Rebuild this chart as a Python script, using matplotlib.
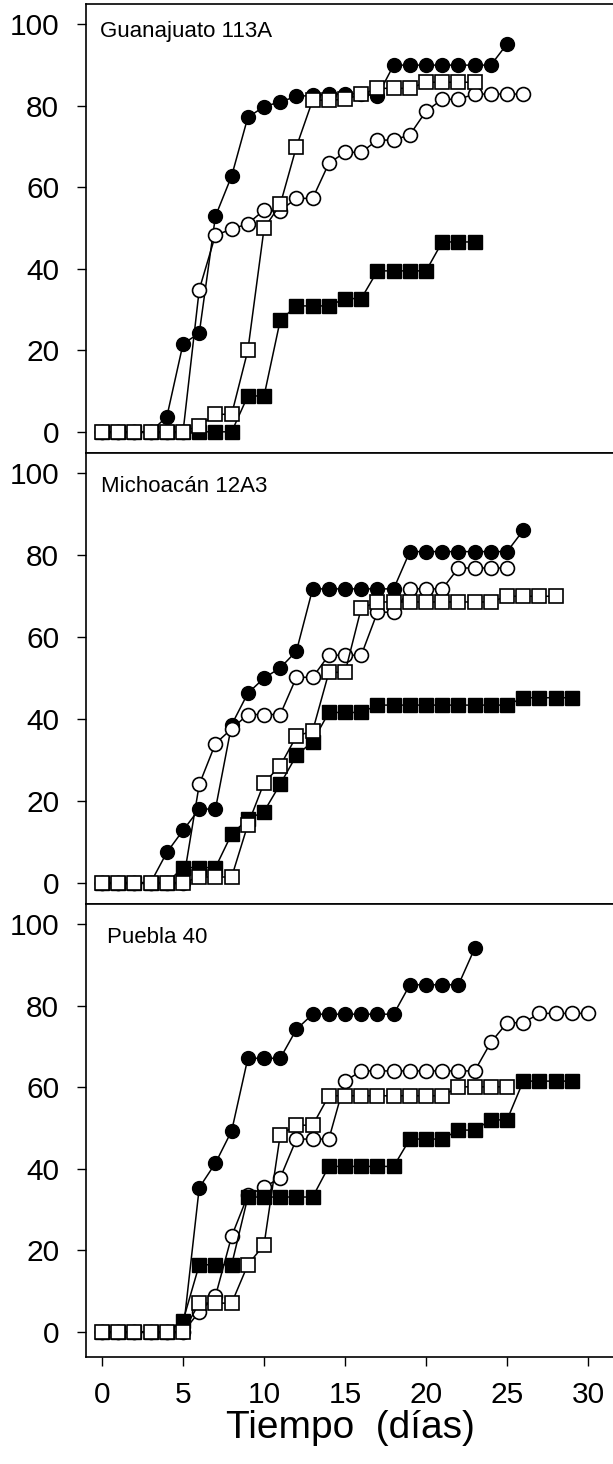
import numpy as np
import matplotlib
matplotlib.use("Agg")
import matplotlib.pyplot as plt

plt.rcParams['font.family'] = ['Liberation Sans Narrow', 'Liberation Sans', 'DejaVu Sans']

# germinacion acumulada (%) por dia, cuatro tratamientos por poblacion
titles = ["Guanajuato 113A", "Michoacán 12A3", "Puebla 40"]

gto_fc = [0, 0, 0, 0, 3.7, 21.6, 24.2, 52.9, 62.8, 77.2, 79.8, 81, 82.3, 82.6, 82.8,
          83, 83, 82.4, 90, 90, 90, 90, 90, 90, 90, 95.2]
gto_oc = [0, 0, 0, 0, 0, 0, 34.9, 48.3, 49.7, 51.1, 54.4, 54.3, 57.3, 57.3, 65.9,
          68.6, 68.6, 71.6, 71.6, 72.9, 78.7, 81.6, 81.6, 82.9, 82.9, 82.9, 82.9]
gto_fs = [0, 0, 0, 0, 0, 0, 0, 0, 0, 8.8, 8.8, 27.4, 30.9, 30.9, 30.9, 32.7, 32.7,
          39.5, 39.5, 39.5, 39.5, 46.6, 46.6, 46.6]
gto_os = [0, 0, 0, 0, 0, 0, 1.5, 4.3, 4.3, 20, 49.9, 55.8, 70, 81.4, 81.4, 81.6,
          82.8, 84.3, 84.3, 84.3, 85.8, 85.8, 85.8, 85.8]

mich_fc = [0, 0, 0, 0, 7.4, 12.8, 18, 18, 38.6, 46.3, 50, 52.5, 56.6, 71.8, 71.8,
           71.8, 71.8, 71.8, 71.8, 80.9, 80.9, 80.9, 80.9, 80.9, 80.9, 80.9, 86.1]
mich_oc = [0, 0, 0, 0, 0, 0, 24, 34, 37.6, 41.1, 41.1, 41.1, 50.2, 50.2, 55.6, 55.6,
           55.6, 66.1, 66.1, 71.8, 71.8, 71.8, 76.9, 76.9, 76.9, 76.9]
mich_fs = [0, 0, 0, 0, 0, 3.7, 3.7, 3.7, 11.9, 15.5, 17.4, 24.1, 31.1, 34.5, 41.6,
           41.6, 41.6, 43.4, 43.4, 43.4, 43.4, 43.4, 43.4, 43.4, 43.4, 43.4, 45.2,
           45.2, 45.2, 45.2]
mich_os = [0, 0, 0, 0, 0, 0, 1.4, 1.4, 1.4, 14.2, 24.4, 28.6, 35.8, 37.1, 51.4, 51.4,
           67.1, 68.6, 68.6, 68.6, 68.6, 68.6, 68.6, 68.6, 68.6, 70, 70, 70, 70]

pue_fc = [0, 0, 0, 0, 0, 0, 35.4, 41.4, 49.3, 67.1, 67.1, 67.1, 74.2, 77.9, 77.9,
          77.9, 77.9, 77.9, 77.9, 85.1, 85.1, 85.1, 85.1, 94]
pue_oc = [0, 0, 0, 0, 0, 0, 5, 8.8, 23.5, 33.5, 35.5, 37.8, 47.3, 47.3, 47.3, 61.5,
          64, 64, 64, 64, 64, 64, 64, 64, 71, 75.8, 75.8, 78.1, 78.1, 78.1, 78.1]
pue_fs = [0, 0, 0, 0, 0, 2.8, 16.5, 16.5, 16.5, 33.1, 33.1, 33.1, 33.1, 33.1, 40.6,
          40.6, 40.6, 40.6, 40.6, 47.3, 47.3, 47.3, 49.5, 49.5, 52, 52, 61.5, 61.5,
          61.5, 61.5]
pue_os = [0, 0, 0, 0, 0, 0, 7.1, 7.1, 7.1, 16.5, 21.4, 48.4, 50.7, 50.7, 57.9, 57.9,
          57.9, 57.9, 57.9, 57.9, 57.9, 57.9, 60.1, 60.1, 60.1, 60.1]

panels = [(gto_fc, gto_oc, gto_fs, gto_os),
          (mich_fc, mich_oc, mich_fs, mich_os),
          (pue_fc, pue_oc, pue_fs, pue_os)]
title_y = [0.927, 0.914, 0.913]
title_x = [0.027, 0.028, 0.04]

W, H = 613, 1464
fig = plt.figure(figsize=(W / 100, H / 100), dpi=100)

left = 86 / W
width = (W - 86 + 1) / W
tops = [4, 453, 904]
bottoms = [453, 904, 1357]

for i, (fc, oc, fs, os_) in enumerate(panels):
    ax = fig.add_axes([left, 1 - bottoms[i] / H, width, (bottoms[i] - tops[i]) / H])
    # circulos rellenos, circulos abiertos, cuadros rellenos, cuadros abiertos
    ax.plot(np.arange(len(fc)), fc, '-o', color='black', lw=1.1, ms=10,
            mfc='black', mec='black', mew=1, zorder=2)
    ax.plot(np.arange(len(oc)), oc, '-o', color='black', lw=1.1, ms=10,
            mfc='white', mec='black', mew=1.2, zorder=3)
    ax.plot(np.arange(len(fs)), fs, '-s', color='black', lw=1.1, ms=9.5,
            mfc='black', mec='black', mew=1, zorder=4)
    ax.plot(np.arange(len(os_)), os_, '-s', color='black', lw=1.1, ms=9.5,
            mfc='white', mec='black', mew=1.2, zorder=5)

    ax.set_xlim(-0.99, 31.6)
    ax.set_ylim(-5.2, 105) if i < 2 else ax.set_ylim(-6.1, 104.9)
    ax.set_yticks(range(0, 101, 20))
    ax.tick_params(axis='y', direction='out', length=6.3, width=1, pad=13,
                   labelsize=21.5)
    if i < 2:
        ax.tick_params(axis='x', bottom=False, labelbottom=False)
    else:
        ax.set_xticks(range(0, 31, 5))
        ax.tick_params(axis='x', direction='out', length=6.3, width=1, pad=11,
                       labelsize=21.5)
        ax.set_xlabel("Tiempo  (días)", fontsize=28, labelpad=1)
    ax.spines['right'].set_visible(False)
    for s in ['left', 'top', 'bottom']:
        ax.spines[s].set_linewidth(1.2)
    ax.text(title_x[i], title_y[i], titles[i], transform=ax.transAxes,
            fontsize=16, ha='left', va='baseline')

fig.savefig("out.png", dpi=100)
